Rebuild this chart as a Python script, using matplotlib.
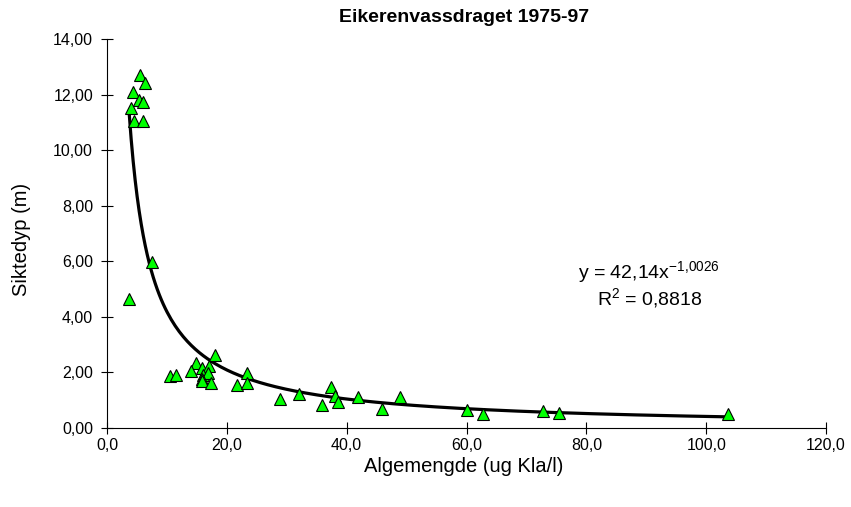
import numpy as np
import matplotlib.pyplot as plt
from matplotlib.ticker import FuncFormatter

plt.rcParams['font.family'] = ['Liberation Sans', 'DejaVu Sans']
plt.rcParams['axes.unicode_minus'] = False

# algemengde (ug Kla/l) and siktedyp (m)
alge = [5.5, 6.3, 4.4, 5.4, 6.05, 3.95, 4.55, 6.05, 7.45, 3.7,
        10.5, 11.6, 14.9, 14.1, 15.9, 17.05, 18.1, 16.1, 16.9, 15.9, 15.9, 17.3,
        21.7, 23.3, 23.3, 28.8, 32.0, 37.4, 38.0, 38.6, 35.8, 41.9, 45.9, 48.9,
        60.0, 62.8, 72.8, 75.4, 103.7]
sikt = [12.7, 12.42, 12.08, 11.8, 11.75, 11.52, 11.04, 11.04, 5.96, 4.64,
        1.87, 1.91, 2.35, 2.06, 2.15, 2.23, 2.63, 1.91, 1.97, 1.75, 1.68, 1.61,
        1.55, 1.97, 1.61, 1.03, 1.22, 1.47, 1.15, 0.95, 0.83, 1.13, 0.67, 1.13,
        0.65, 0.5, 0.62, 0.55, 0.5]

# power trend line y = a * x^b
a, b = 42.14, -1.0026

fig = plt.figure(figsize=(8.51, 5.07), dpi=100)
ax = fig.add_axes([0.1257, 0.1558, 0.845, 0.767])

xs = np.linspace(min(alge), max(alge), 300)
ax.plot(xs, a * xs ** b, color='black', lw=2.3, zorder=2)
ax.plot(alge, sikt, linestyle='none', marker='^', markersize=8,
        markerfacecolor='#00ff00', markeredgecolor='black', markeredgewidth=0.8, zorder=3)

ax.set_xlim(0, 120)
ax.set_ylim(0, 14)
ax.set_xticks(np.arange(0, 121, 20))
ax.set_yticks(np.arange(0, 15, 2))
ax.xaxis.set_major_formatter(FuncFormatter(lambda v, p: f'{v:.1f}'.replace('.', ',')))
ax.yaxis.set_major_formatter(FuncFormatter(lambda v, p: f'{v:.2f}'.replace('.', ',')))
ax.tick_params(direction='inout', length=8, width=0.8, labelsize=11.5)
ax.tick_params(axis='y', pad=6)
for s in ['top', 'right']:
    ax.spines[s].set_visible(False)

fig.text(464 / 851, 1 - 18 / 507, 'Eikerenvassdraget 1975-97', fontsize=14,
         fontweight='bold', ha='center', va='center')
fig.text(464 / 851, 1 - 467 / 507, 'Algemengde (ug Kla/l)', fontsize=14.5,
         ha='center', va='center')
fig.text(22 / 851, 1 - 239 / 507, 'Siktedyp (m)', fontsize=14.5, rotation=90,
         ha='center', va='center')

ax.text(90.5, 5.6, r'y = 42,14x$\mathregular{^{-1{,}0026}}$', ha='center', va='center', fontsize=14)
ax.text(90.5, 4.67, r'R$\mathregular{^{2}}$ = 0,8818', ha='center', va='center', fontsize=14)

fig.savefig('out.png', dpi=100)
